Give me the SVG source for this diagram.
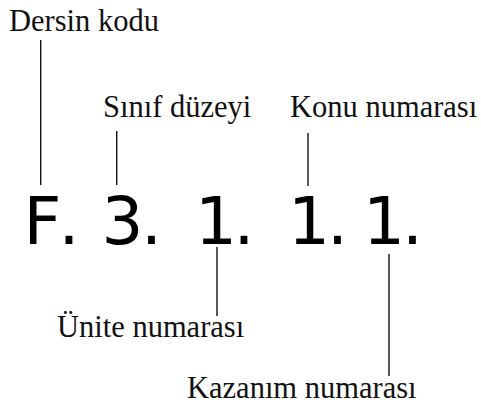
<svg xmlns="http://www.w3.org/2000/svg" width="481" height="405" viewBox="0 0 481 405">
<style>
.lbl{font-family:"Liberation Serif","Times New Roman",serif;font-size:30.5px;fill:#111}
.code{font-family:"DejaVu Sans",sans-serif;font-size:66px;fill:#000}
.conn line{stroke:#111;stroke-width:1.4}
</style>
<rect width="481" height="405" fill="#fff"/>
<g id="code"><text class="code" y="244" text-anchor="middle" x="42.5 69 90 122.5 151.5 180 216 244 275 309 337.5 360 384 412.5">F. 3. 1. 1. 1.</text></g>
<g id="dersin-kodu"><text class="lbl" x="9" y="31">Dersin kodu</text></g>
<g id="sinif-duzeyi"><text class="lbl" x="103" y="117">Sınıf düzeyi</text></g>
<g id="konu-numarasi"><text class="lbl" x="290" y="117">Konu numarası</text></g>
<g id="unite-numarasi"><text class="lbl" x="57" y="337">Ünite numarası</text></g>
<g id="kazanim-numarasi"><text class="lbl" x="187" y="398">Kazanım numarası</text></g>
<g class="conn" id="connectors">
<line x1="40.7" y1="40" x2="40.7" y2="185"/>
<line x1="116.7" y1="131" x2="116.7" y2="185"/>
<line x1="308" y1="133" x2="308" y2="186"/>
<line x1="217" y1="247" x2="217" y2="316"/>
<line x1="389" y1="254" x2="389" y2="376"/>
</g>
</svg>
